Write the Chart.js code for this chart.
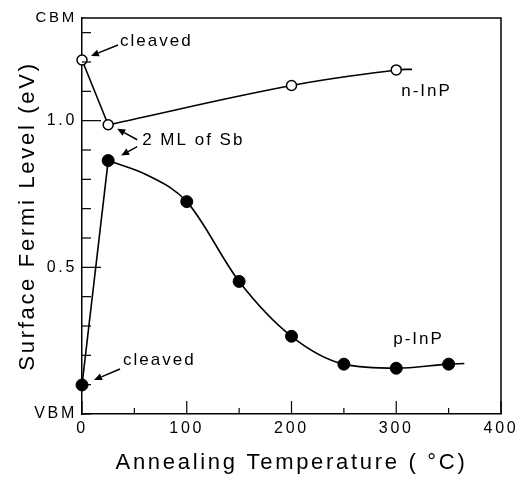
<!DOCTYPE html>
<html>
<head>
<meta charset="utf-8">
<script src="https://cdn.jsdelivr.net/npm/chart.js@4"></script>
<style>
html, body { margin: 0; padding: 0; background: #fff; }
</style>
</head>
<body>
<canvas id="chart" width="524" height="477"></canvas>
<script>
// data
const tempN = [0, 25, 200, 300];
const fermiN = [1.207, 0.986, 1.12, 1.173];
const tempP = [0, 25, 100, 150, 200, 250, 300, 350];
const fermiP = [0.099, 0.864, 0.724, 0.452, 0.265, 0.17, 0.156, 0.17];

// guide curves: extra points (no marker there)
const curveEndN = [315, 1.175];
const guideTempP = [62];
const guideFermiP = [0.815];
const curveEndP = [365, 0.172];

const xTicks = [0, 50, 100, 150, 200, 250, 300, 350, 400];
const yTicks = [0, 0.1, 0.2, 0.3, 0.4, 0.5, 0.6, 0.7, 0.8, 0.9, 1.0, 1.1, 1.2, 1.3, 1.35];
const yLabels = { 0: "VBM", 0.5: "0.5", 1: "1.0", 1.35: "CBM" };

const FONT = "'Liberation Sans', Arial, Helvetica, sans-serif";

function toXY(xs, ys) {
    return xs.map((x, i) => ({ x: x, y: ys[i] }))
}

// straight piece from cleaved to 25 C, smooth curve after
const nStraight = toXY(tempN.slice(0, 2), fermiN.slice(0, 2))
const nCurve = toXY(tempN.slice(1), fermiN.slice(1)).concat({ x: curveEndN[0], y: curveEndN[1] })
const pStraight = toXY(tempP.slice(0, 2), fermiP.slice(0, 2))
const pCurve = toXY(tempP.slice(1), fermiP.slice(1))
    .concat(toXY(guideTempP, guideFermiP))
    .concat({ x: curveEndP[0], y: curveEndP[1] })
    .sort((a, b) => a.x - b.x)

function arrow(ctx, x1, y1, x2, y2) {
    const ang = Math.atan2(y2 - y1, x2 - x1)
    const len = 8, wid = 3.5
    const bx = x2 - len * Math.cos(ang), by = y2 - len * Math.sin(ang)
    ctx.beginPath()
    ctx.moveTo(x1, y1)
    ctx.lineTo(bx, by)
    ctx.stroke()
    ctx.beginPath()
    ctx.moveTo(x2, y2)
    ctx.lineTo(bx + wid * Math.sin(ang), by - wid * Math.cos(ang))
    ctx.lineTo(bx - wid * Math.sin(ang), by + wid * Math.cos(ang))
    ctx.closePath()
    ctx.fill()
}

// spacing of the lettering like the printed figure
const spacingPlugin = {
    id: "spacing",
    beforeDraw(chart) {
        chart.ctx.letterSpacing = "2.7px"
    }
}

// frame, inward ticks and the text notes
const framePlugin = {
    id: "frame",
    afterDraw(chart) {
        const ctx = chart.ctx
        const { left, right, top, bottom } = chart.chartArea
        const xs = chart.scales.x, ys = chart.scales.y
        ctx.save()
        ctx.strokeStyle = "#000"
        ctx.fillStyle = "#000"

        ctx.lineWidth = 1.5
        ctx.beginPath()
        ctx.moveTo(left, top)
        ctx.lineTo(right, top)
        ctx.lineTo(right, bottom)
        ctx.stroke()

        ctx.lineWidth = 1.2
        xTicks.forEach(v => {
            const px = xs.getPixelForValue(v)
            const l = v % 100 === 0 ? 13 : 6
            ctx.beginPath()
            ctx.moveTo(px, bottom)
            ctx.lineTo(px, bottom - l)
            ctx.stroke()
        })
        yTicks.forEach(v => {
            if (v === 1.35) return
            const py = ys.getPixelForValue(v)
            const l = (v === 0.5 || v === 1.0) ? 19 : 9
            ctx.beginPath()
            ctx.moveTo(left, py)
            ctx.lineTo(left + l, py)
            ctx.stroke()
        })

        // notes placed relative to the data points
        const nC = [xs.getPixelForValue(tempN[0]), ys.getPixelForValue(fermiN[0])]
        const nS = [xs.getPixelForValue(tempN[1]), ys.getPixelForValue(fermiN[1])]
        const pC = [xs.getPixelForValue(tempP[0]), ys.getPixelForValue(fermiP[0])]
        const pS = [xs.getPixelForValue(tempP[1]), ys.getPixelForValue(fermiP[1])]
        const n300 = [xs.getPixelForValue(tempN[3]), ys.getPixelForValue(fermiN[3])]
        const p300 = [xs.getPixelForValue(tempP[6]), ys.getPixelForValue(fermiP[6])]

        ctx.font = "17px " + FONT
        ctx.letterSpacing = "2px"
        ctx.textBaseline = "middle"
        ctx.textAlign = "left"
        ctx.lineWidth = 1.5

        ctx.fillText("cleaved", nC[0] + 38, nC[1] - 19)
        arrow(ctx, nC[0] + 36, nC[1] - 15, nC[0] + 9, nC[1] - 4)

        ctx.fillText("2 ML of Sb", nS[0] + 34, nS[1] + 16)
        arrow(ctx, nS[0] + 29, nS[1] + 15, nS[0] + 9, nS[1] + 4)
        arrow(ctx, pS[0] + 29, pS[1] - 14, pS[0] + 13, pS[1] - 5)

        ctx.fillText("cleaved", pC[0] + 41, pC[1] - 25)
        arrow(ctx, pC[0] + 38, pC[1] - 16, pC[0] + 12, pC[1] - 5)

        ctx.fillText("n-InP", n300[0] + 5, n300[1] + 21)
        ctx.fillText("p-InP", p300[0] - 3, p300[1] - 29)
        ctx.restore()
    }
}

const lineStyle = {
    showLine: true,
    borderColor: "#000",
    borderWidth: 1.6,
    pointRadius: 0,
    fill: false
}

new Chart(document.getElementById("chart"), {
    type: "scatter",
    data: {
        datasets: [
            {
                label: "n-InP",
                data: toXY(tempN, fermiN),
                showLine: false,
                clip: false,
                pointRadius: 5,
                pointBackgroundColor: "#fff",
                pointBorderColor: "#000",
                pointBorderWidth: 1.5
            },
            {
                label: "p-InP",
                data: toXY(tempP, fermiP),
                showLine: false,
                clip: false,
                pointRadius: 6,
                pointBackgroundColor: "#000",
                pointBorderColor: "#000",
                pointBorderWidth: 1
            },
            { ...lineStyle, data: nStraight, tension: 0 },
            { ...lineStyle, data: nCurve, tension: 0.4 },
            { ...lineStyle, data: pStraight, tension: 0 },
            { ...lineStyle, data: pCurve, cubicInterpolationMode: "monotone" }
        ]
    },
    options: {
        responsive: false,
        animation: false,
        devicePixelRatio: 1,
        layout: {
            padding: { top: 18, right: 23, bottom: 0, left: 0 }
        },
        plugins: {
            legend: { display: false },
            tooltip: { enabled: false }
        },
        scales: {
            x: {
                type: "linear",
                min: 0,
                max: 400,
                afterBuildTicks: s => { s.ticks = xTicks.map(v => ({ value: v })) },
                afterFit: s => { s.height = 63 },
                grid: { display: false, drawTicks: false },
                border: { color: "#000", width: 1.5 },
                ticks: {
                    autoSkip: false,
                    maxRotation: 0,
                    padding: 5,
                    color: "#000",
                    font: { family: FONT, size: 16 },
                    callback: v => v % 100 === 0 ? String(v) : ""
                },
                title: {
                    display: true,
                    text: "Annealing Temperature ( °C)",
                    color: "#000",
                    font: { family: FONT, size: 22 },
                    padding: { top: 0, bottom: 1 }
                }
            },
            y: {
                type: "linear",
                min: 0,
                max: 1.35,
                afterBuildTicks: s => { s.ticks = yTicks.map(v => ({ value: v })) },
                afterFit: s => { s.width = 82 },
                grid: { display: false, drawTicks: false },
                border: { color: "#000", width: 1.5 },
                ticks: {
                    autoSkip: false,
                    padding: 5,
                    color: "#000",
                    font: ctx => ({ family: FONT, size: ctx.tick && ctx.tick.value === 1.35 ? 15 : 16 }),
                    callback: v => yLabels[v] || ""
                },
                title: {
                    display: true,
                    text: "Surface Fermi Level (eV)",
                    color: "#000",
                    font: { family: FONT, size: 22 },
                    padding: { top: 15, bottom: 0 }
                }
            }
        }
    },
    plugins: [spacingPlugin, framePlugin]
})
</script>
</body>
</html>
